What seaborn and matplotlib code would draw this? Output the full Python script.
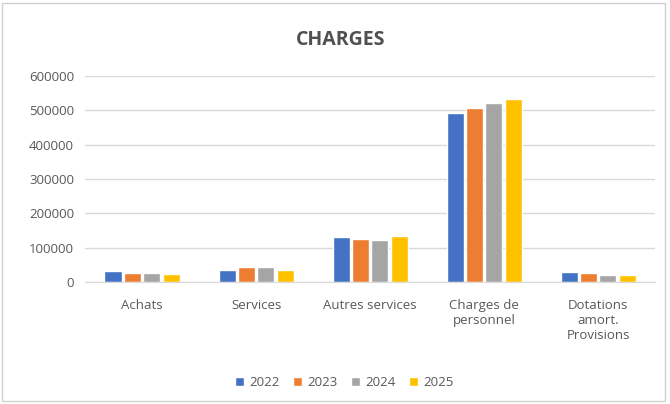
import pandas as pd
import matplotlib.pyplot as plt
import seaborn as sns
from matplotlib.patches import Rectangle

categories = ["Achats", "Services", "Autres services", "Charges de\npersonnel",
              "Dotations\namort.\nProvisions"]
years = ["2022", "2023", "2024", "2025"]
v2022 = [31000, 36000, 130000, 491000, 29000]
v2023 = [27500, 43000, 126000, 506000, 25500]
v2024 = [27500, 43000, 122500, 521000, 21500]
v2025 = [23500, 35000, 135000, 533000, 20500]
colors = ["#4472C4", "#ED7D31", "#A5A5A5", "#FFC000"]

rows = []
for year, vals in zip(years, [v2022, v2023, v2024, v2025]):
    for cat, v in zip(categories, vals):
        rows.append({"categorie": cat, "annee": year, "valeur": v})
df = pd.DataFrame(rows)

sns.set_style("white")
plt.rcParams["font.family"] = ["Open Sans", "DejaVu Sans"]

fig = plt.figure(figsize=(6.7, 4.04), dpi=100)
ax = fig.add_axes([0.127, 0.302, 0.851, 0.51])

sns.barplot(data=df, x="categorie", y="valeur", hue="annee", order=categories,
            hue_order=years, palette=colors, width=0.68, gap=0.12,
            saturation=1, ax=ax)

ax.set_ylim(0, 600000)
ax.set_yticks(range(0, 600001, 100000))
ax.set_xlim(-0.5, 4.5)
ax.grid(axis="y", color="#d9d9d9", linewidth=1)
ax.set_axisbelow(True)
for s in ["top", "right", "left"]:
    ax.spines[s].set_visible(False)
ax.spines["bottom"].set_color("#d9d9d9")
ax.tick_params(axis="both", length=0, colors="#595959", labelsize=9.5)
ax.tick_params(axis="x", pad=12)
ax.tick_params(axis="y", pad=8)
ax.set_xlabel("")
ax.set_ylabel("")

fig.suptitle("CHARGES", x=0.508, y=0.925, fontsize=14, fontweight="bold",
             color="#505050")

ax.legend(loc="upper center", bbox_to_anchor=(0.455, -0.40), ncol=4, frameon=False,
          fontsize=9.5, handlelength=0.7, handleheight=0.7, handletextpad=0.4,
          columnspacing=1.0, labelcolor="#595959")

fig.patches.append(Rectangle((0.003, 0.008), 0.99, 0.985, transform=fig.transFigure,
                             fill=False, edgecolor="#d0d0d0", linewidth=1))

plt.savefig("out.png", dpi=100)
plt.close()
